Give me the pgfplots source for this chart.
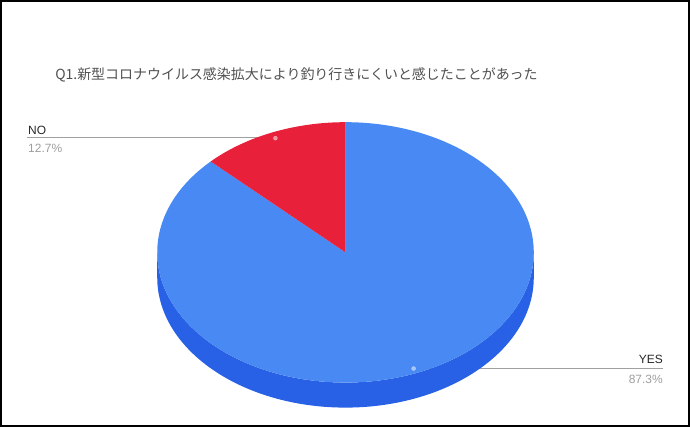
\documentclass[border=0pt]{standalone}
\usepackage{pgfplots}
\pgfplotsset{compat=1.18}
\usepackage{fontspec}
\setmainfont{Liberation Sans}
\newfontfamily\jp{Noto Sans CJK JP}

\definecolor{pietop}{RGB}{72,137,244}
\definecolor{pieside}{RGB}{40,97,229}
\definecolor{piered}{RGB}{232,32,58}
\definecolor{leader}{RGB}{160,160,160}
\definecolor{pct}{RGB}{158,158,158}
\definecolor{ttl}{RGB}{80,80,80}

% shares in percent
\def\valyes{87.3}
\def\valno{12.7}

\begin{document}
\begin{tikzpicture}
  \pgfmathsetmacro{\noend}{90+3.6*\valno}
  \pgfmathsetmacro{\yesend}{\noend+3.6*\valyes}
  \begin{axis}[
      scale only axis,
      width=690bp, height=427bp,
      xmin=0, xmax=690, ymin=0, ymax=427,
      y dir=reverse,
      axis lines=none,
      xtick=\empty, ytick=\empty,
      clip=false,
    ]
    % leader lines (under the pie)
    \addplot[leader, line width=1.1bp, mark=none] coordinates {(27,137) (275,137)};
    \addplot[leader, line width=1.1bp, mark=none] coordinates {(413,368) (662,368)};

    % side of the pie
    \fill[pieside] (axis cs:157,252)
      arc[start angle=180, end angle=360, x radius=188bp, y radius=130bp]
      -- ++(0,-25bp)
      arc[start angle=0, end angle=-180, x radius=188bp, y radius=130bp]
      -- cycle;
    % YES slice
    \fill[pietop] (axis cs:345,252) -- ++(\noend:188bp and 130bp)
      arc[start angle=\noend, end angle=\yesend, x radius=188bp, y radius=130bp]
      -- cycle;
    % NO slice
    \fill[piered] (axis cs:345,252) -- ++(90:188bp and 130bp)
      arc[start angle=90, end angle=\noend, x radius=188bp, y radius=130bp]
      -- cycle;

    % anchor dots
    \addplot[only marks, mark=*, mark size=2bp, color=white, opacity=0.5]
      coordinates {(275,138) (413,368)};

    % title and labels
    \node[anchor=west, inner sep=0, text=ttl, font=\jp\fontsize{14}{16}\selectfont]
      at (axis cs:55,75) {Q1.新型コロナウイルス感染拡大により釣り行きにくいと感じたことがあった};
    \node[anchor=base west, inner sep=0, text=black!85, font=\fontsize{12}{14}\selectfont]
      at (axis cs:28,134) {NO};
    \node[anchor=base west, inner sep=0, text=pct, font=\fontsize{12}{14}\selectfont]
      at (axis cs:28,152) {12.7\%};
    \node[anchor=base east, inner sep=0, text=black!85, font=\fontsize{12}{14}\selectfont]
      at (axis cs:662,363) {YES};
    \node[anchor=base east, inner sep=0, text=pct, font=\fontsize{12}{14}\selectfont]
      at (axis cs:662,383) {87.3\%};

    % frame
    \draw[black, line width=2bp] (axis cs:1,1) rectangle (axis cs:688,425);
  \end{axis}
\end{tikzpicture}
\end{document}
